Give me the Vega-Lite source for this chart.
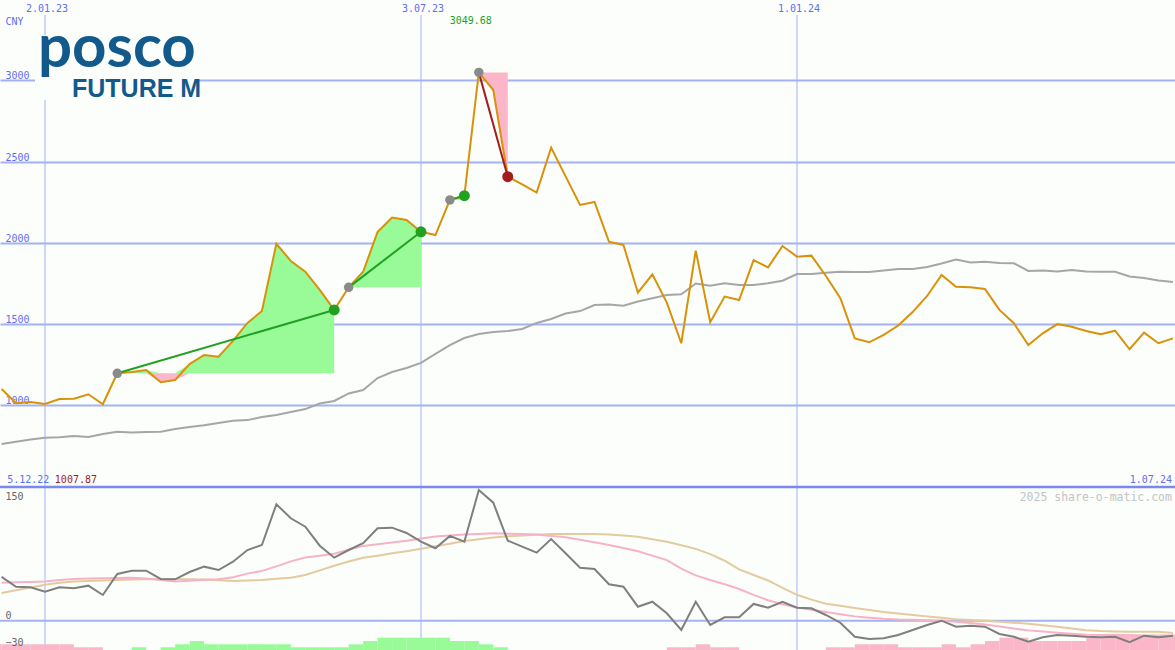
{
  "$schema": "https://vega.github.io/schema/vega-lite/v6.json",
  "width": 1175,
  "height": 650,
  "autosize": {"type": "none"},
  "padding": 0,
  "background": "#fbfefb",
  "config": {"view": {"stroke": null}},
  "datasets": {
    "weekly": [
      {"date":"2022-12-12","close":1102,"ma":763,"mom":49.7,"sigA":43.2,"sigB":31.5},
      {"date":"2022-12-19","close":1014,"ma":777,"mom":38.6,"sigA":43.6,"sigB":34.7},
      {"date":"2022-12-26","close":1022,"ma":791,"mom":38.0,"sigA":44.0,"sigB":37.7},
      {"date":"2023-01-02","close":1010,"ma":802,"mom":33.0,"sigA":44.5,"sigB":40.8},
      {"date":"2023-01-09","close":1040,"ma":804,"mom":38.0,"sigA":46.3,"sigB":43.2},
      {"date":"2023-01-16","close":1042,"ma":812,"mom":36.8,"sigA":47.3,"sigB":44.5},
      {"date":"2023-01-23","close":1069,"ma":806,"mom":39.8,"sigA":47.8,"sigB":45.1},
      {"date":"2023-01-30","close":1007.87,"ma":825,"mom":29.2,"sigA":48.2,"sigB":45.6},
      {"date":"2023-02-06","close":1198,"ma":839,"mom":53.1,"sigA":48.5,"sigB":46.3},
      {"date":"2023-02-13","close":1206,"ma":834,"mom":56.8,"sigA":48.8,"sigB":46.9},
      {"date":"2023-02-20","close":1218,"ma":837,"mom":56.8,"sigA":47.8,"sigB":47.2},
      {"date":"2023-02-27","close":1143,"ma":839,"mom":47.4,"sigA":46.1,"sigB":47.4},
      {"date":"2023-03-06","close":1157,"ma":855,"mom":47.0,"sigA":44.4,"sigB":47.3},
      {"date":"2023-03-13","close":1255,"ma":868,"mom":55.3,"sigA":45.5,"sigB":47.2},
      {"date":"2023-03-20","close":1311,"ma":878,"mom":61.4,"sigA":46.5,"sigB":46.8},
      {"date":"2023-03-27","close":1300,"ma":892,"mom":57.6,"sigA":47.0,"sigB":46.0},
      {"date":"2023-04-03","close":1397,"ma":906,"mom":67.0,"sigA":49.4,"sigB":45.1},
      {"date":"2023-04-10","close":1508,"ma":910,"mom":80.3,"sigA":53.5,"sigB":45.6},
      {"date":"2023-04-17","close":1581,"ma":929,"mom":86.0,"sigA":56.6,"sigB":46.1},
      {"date":"2023-04-24","close":1995,"ma":941,"mom":132.3,"sigA":61.7,"sigB":47.6},
      {"date":"2023-05-01","close":1889,"ma":960,"mom":116.4,"sigA":67.4,"sigB":48.9},
      {"date":"2023-05-08","close":1823,"ma":978,"mom":106.8,"sigA":71.7,"sigB":51.9},
      {"date":"2023-05-15","close":1711,"ma":1012,"mom":85.2,"sigA":73.8,"sigB":57.2},
      {"date":"2023-05-22","close":1588,"ma":1028,"mom":71.6,"sigA":76.0,"sigB":62.5},
      {"date":"2023-05-29","close":1727,"ma":1074,"mom":80.3,"sigA":80.6,"sigB":67.2},
      {"date":"2023-06-05","close":1823,"ma":1095,"mom":88.0,"sigA":85.0,"sigB":71.6},
      {"date":"2023-06-12","close":2068,"ma":1169,"mom":105.0,"sigA":86.8,"sigB":73.9},
      {"date":"2023-06-19","close":2156,"ma":1206,"mom":105.7,"sigA":88.9,"sigB":76.5},
      {"date":"2023-06-26","close":2141,"ma":1231,"mom":99.7,"sigA":90.9,"sigB":79.0},
      {"date":"2023-07-03","close":2069,"ma":1262,"mom":89.9,"sigA":93.3,"sigB":81.7},
      {"date":"2023-07-10","close":2049,"ma":1317,"mom":82.3,"sigA":95.6,"sigB":84.5},
      {"date":"2023-07-17","close":2265,"ma":1372,"mom":96.3,"sigA":96.8,"sigB":87.5},
      {"date":"2023-07-24","close":2291,"ma":1415,"mom":89.8,"sigA":98.0,"sigB":90.5},
      {"date":"2023-07-31","close":3049.68,"ma":1440,"mom":148.5,"sigA":98.6,"sigB":92.6},
      {"date":"2023-08-07","close":2941,"ma":1452,"mom":134.1,"sigA":99.3,"sigB":94.5},
      {"date":"2023-08-14","close":2408,"ma":1458,"mom":90.9,"sigA":98.9,"sigB":95.9},
      {"date":"2023-08-21","close":2360,"ma":1471,"mom":84.1,"sigA":98.5,"sigB":96.8},
      {"date":"2023-08-28","close":2310,"ma":1508,"mom":77.3,"sigA":97.8,"sigB":97.7},
      {"date":"2023-09-04","close":2587,"ma":1532,"mom":92.8,"sigA":96.3,"sigB":98.5},
      {"date":"2023-09-11","close":2410,"ma":1566,"mom":76.6,"sigA":94.9,"sigB":98.5},
      {"date":"2023-09-18","close":2234,"ma":1581,"mom":60.2,"sigA":92.0,"sigB":98.5},
      {"date":"2023-09-25","close":2252,"ma":1618,"mom":58.8,"sigA":89.1,"sigB":98.5},
      {"date":"2023-10-02","close":2008,"ma":1622,"mom":41.4,"sigA":85.9,"sigB":98.0},
      {"date":"2023-10-09","close":1988,"ma":1614,"mom":38.6,"sigA":82.6,"sigB":96.9},
      {"date":"2023-10-16","close":1694,"ma":1640,"mom":15.9,"sigA":78.8,"sigB":95.3},
      {"date":"2023-10-23","close":1807,"ma":1660,"mom":21.6,"sigA":73.9,"sigB":92.6},
      {"date":"2023-10-30","close":1633,"ma":1680,"mom":8.4,"sigA":68.9,"sigB":89.8},
      {"date":"2023-11-06","close":1383,"ma":1684,"mom":-10.6,"sigA":59.1,"sigB":85.7},
      {"date":"2023-11-13","close":1953,"ma":1751,"mom":21.6,"sigA":51.5,"sigB":81.6},
      {"date":"2023-11-20","close":1512,"ma":1737,"mom":-4.9,"sigA":46.3,"sigB":75.6},
      {"date":"2023-11-27","close":1670,"ma":1752,"mom":3.9,"sigA":41.5,"sigB":68.1},
      {"date":"2023-12-04","close":1649,"ma":1742,"mom":3.9,"sigA":36.0,"sigB":58.2},
      {"date":"2023-12-11","close":1895,"ma":1742,"mom":19.0,"sigA":29.4,"sigB":51.9},
      {"date":"2023-12-18","close":1850,"ma":1752,"mom":14.8,"sigA":23.2,"sigB":45.7},
      {"date":"2023-12-25","close":1981,"ma":1768,"mom":21.3,"sigA":18.6,"sigB":37.3},
      {"date":"2024-01-01","close":1916,"ma":1809,"mom":14.8,"sigA":15.0,"sigB":29.4},
      {"date":"2024-01-08","close":1922,"ma":1809,"mom":14.1,"sigA":12.5,"sigB":23.9},
      {"date":"2024-01-15","close":1797,"ma":1817,"mom":6.5,"sigA":9.8,"sigB":19.3},
      {"date":"2024-01-22","close":1660,"ma":1823,"mom":-2.3,"sigA":7.3,"sigB":16.9},
      {"date":"2024-01-29","close":1413,"ma":1822,"mom":-18.2,"sigA":4.9,"sigB":14.4},
      {"date":"2024-02-05","close":1389,"ma":1822,"mom":-20.8,"sigA":3.4,"sigB":12.2},
      {"date":"2024-02-12","close":1434,"ma":1831,"mom":-20.0,"sigA":2.2,"sigB":10.0},
      {"date":"2024-02-19","close":1492,"ma":1840,"mom":-16.3,"sigA":1.4,"sigB":8.2},
      {"date":"2024-02-26","close":1575,"ma":1840,"mom":-10.6,"sigA":1.0,"sigB":6.5},
      {"date":"2024-03-04","close":1674,"ma":1852,"mom":-4.9,"sigA":0.6,"sigB":4.9},
      {"date":"2024-03-11","close":1803,"ma":1874,"mom":0.0,"sigA":-0.2,"sigB":3.3},
      {"date":"2024-03-18","close":1731,"ma":1898,"mom":-6.8,"sigA":-1.1,"sigB":1.6},
      {"date":"2024-03-25","close":1727,"ma":1880,"mom":-5.7,"sigA":-2.7,"sigB":0.8},
      {"date":"2024-04-01","close":1717,"ma":1885,"mom":-6.8,"sigA":-4.3,"sigB":0.0},
      {"date":"2024-04-08","close":1588,"ma":1877,"mom":-15.1,"sigA":-6.5,"sigB":-1.1},
      {"date":"2024-04-15","close":1506,"ma":1875,"mom":-18.2,"sigA":-9.0,"sigB":-2.2},
      {"date":"2024-04-22","close":1372,"ma":1828,"mom":-23.9,"sigA":-11.0,"sigB":-3.6},
      {"date":"2024-04-29","close":1444,"ma":1830,"mom":-18.9,"sigA":-12.4,"sigB":-5.2},
      {"date":"2024-05-06","close":1501,"ma":1825,"mom":-16.3,"sigA":-13.6,"sigB":-6.9},
      {"date":"2024-05-13","close":1485,"ma":1834,"mom":-17.0,"sigA":-14.8,"sigB":-8.9},
      {"date":"2024-05-20","close":1458,"ma":1825,"mom":-18.2,"sigA":-15.9,"sigB":-10.8},
      {"date":"2024-05-27","close":1438,"ma":1823,"mom":-18.9,"sigA":-16.3,"sigB":-11.7},
      {"date":"2024-06-03","close":1460,"ma":1823,"mom":-18.2,"sigA":-16.3,"sigB":-12.2},
      {"date":"2024-06-10","close":1346,"ma":1794,"mom":-24.5,"sigA":-16.6,"sigB":-12.5},
      {"date":"2024-06-17","close":1448,"ma":1785,"mom":-17.0,"sigA":-17.4,"sigB":-12.5},
      {"date":"2024-06-24","close":1383,"ma":1769,"mom":-18.9,"sigA":-18.2,"sigB":-12.7},
      {"date":"2024-07-01","close":1413,"ma":1760,"mom":-17.0,"sigA":-18.2,"sigB":-14.1}
    ],
    "bars": [
      {"date":"2022-12-05","end":"2022-12-12","top":-26.8,"dir":"down"},
      {"date":"2022-12-12","end":"2022-12-19","top":-26.8,"dir":"down"},
      {"date":"2022-12-19","end":"2022-12-26","top":-26.8,"dir":"down"},
      {"date":"2022-12-26","end":"2023-01-02","top":-26.8,"dir":"down"},
      {"date":"2023-01-02","end":"2023-01-09","top":-26.8,"dir":"down"},
      {"date":"2023-01-09","end":"2023-01-16","top":-26.8,"dir":"down"},
      {"date":"2023-01-16","end":"2023-01-23","top":-30.2,"dir":"down"},
      {"date":"2023-01-23","end":"2023-01-30","top":-30.2,"dir":"down"},
      {"date":"2023-02-13","end":"2023-02-20","top":-30.2,"dir":"up"},
      {"date":"2023-02-27","end":"2023-03-06","top":-30.2,"dir":"up"},
      {"date":"2023-03-06","end":"2023-03-13","top":-26.8,"dir":"up"},
      {"date":"2023-03-13","end":"2023-03-20","top":-23.1,"dir":"up"},
      {"date":"2023-03-20","end":"2023-03-27","top":-26.8,"dir":"up"},
      {"date":"2023-03-27","end":"2023-04-03","top":-26.8,"dir":"up"},
      {"date":"2023-04-03","end":"2023-04-10","top":-26.8,"dir":"up"},
      {"date":"2023-04-10","end":"2023-04-17","top":-26.8,"dir":"up"},
      {"date":"2023-04-17","end":"2023-04-24","top":-26.8,"dir":"up"},
      {"date":"2023-04-24","end":"2023-05-01","top":-26.8,"dir":"up"},
      {"date":"2023-05-01","end":"2023-05-08","top":-30.2,"dir":"up"},
      {"date":"2023-05-08","end":"2023-05-15","top":-30.2,"dir":"up"},
      {"date":"2023-05-15","end":"2023-05-22","top":-30.2,"dir":"up"},
      {"date":"2023-05-22","end":"2023-05-29","top":-30.2,"dir":"up"},
      {"date":"2023-05-29","end":"2023-06-05","top":-26.8,"dir":"up"},
      {"date":"2023-06-05","end":"2023-06-12","top":-23.1,"dir":"up"},
      {"date":"2023-06-12","end":"2023-06-19","top":-19.3,"dir":"up"},
      {"date":"2023-06-19","end":"2023-06-26","top":-19.3,"dir":"up"},
      {"date":"2023-06-26","end":"2023-07-03","top":-19.3,"dir":"up"},
      {"date":"2023-07-03","end":"2023-07-10","top":-19.3,"dir":"up"},
      {"date":"2023-07-10","end":"2023-07-17","top":-19.3,"dir":"up"},
      {"date":"2023-07-17","end":"2023-07-24","top":-23.1,"dir":"up"},
      {"date":"2023-07-24","end":"2023-07-31","top":-23.1,"dir":"up"},
      {"date":"2023-07-31","end":"2023-08-07","top":-26.8,"dir":"up"},
      {"date":"2023-08-07","end":"2023-08-14","top":-30.2,"dir":"up"},
      {"date":"2023-10-30","end":"2023-11-06","top":-30.2,"dir":"down"},
      {"date":"2023-11-06","end":"2023-11-13","top":-30.2,"dir":"down"},
      {"date":"2023-11-13","end":"2023-11-20","top":-26.8,"dir":"down"},
      {"date":"2023-11-20","end":"2023-11-27","top":-30.2,"dir":"down"},
      {"date":"2023-11-27","end":"2023-12-04","top":-30.2,"dir":"down"},
      {"date":"2024-01-15","end":"2024-01-22","top":-30.2,"dir":"down"},
      {"date":"2024-01-22","end":"2024-01-29","top":-30.2,"dir":"down"},
      {"date":"2024-01-29","end":"2024-02-05","top":-26.8,"dir":"down"},
      {"date":"2024-02-05","end":"2024-02-12","top":-26.8,"dir":"down"},
      {"date":"2024-02-12","end":"2024-02-19","top":-26.8,"dir":"down"},
      {"date":"2024-02-19","end":"2024-02-26","top":-30.2,"dir":"down"},
      {"date":"2024-02-26","end":"2024-03-04","top":-30.2,"dir":"down"},
      {"date":"2024-03-04","end":"2024-03-11","top":-30.2,"dir":"down"},
      {"date":"2024-03-11","end":"2024-03-18","top":-26.8,"dir":"down"},
      {"date":"2024-03-18","end":"2024-03-25","top":-30.2,"dir":"down"},
      {"date":"2024-03-25","end":"2024-04-01","top":-26.8,"dir":"down"},
      {"date":"2024-04-01","end":"2024-04-08","top":-23.1,"dir":"down"},
      {"date":"2024-04-08","end":"2024-04-15","top":-19.3,"dir":"down"},
      {"date":"2024-04-15","end":"2024-04-22","top":-19.3,"dir":"down"},
      {"date":"2024-04-22","end":"2024-04-29","top":-23.1,"dir":"down"},
      {"date":"2024-04-29","end":"2024-05-06","top":-23.1,"dir":"down"},
      {"date":"2024-05-06","end":"2024-05-13","top":-23.1,"dir":"down"},
      {"date":"2024-05-13","end":"2024-05-20","top":-23.1,"dir":"down"},
      {"date":"2024-05-20","end":"2024-05-27","top":-19.3,"dir":"down"},
      {"date":"2024-05-27","end":"2024-06-03","top":-19.3,"dir":"down"},
      {"date":"2024-06-03","end":"2024-06-10","top":-15.6,"dir":"down"},
      {"date":"2024-06-10","end":"2024-06-17","top":-15.6,"dir":"down"},
      {"date":"2024-06-17","end":"2024-06-24","top":-15.6,"dir":"down"},
      {"date":"2024-06-24","end":"2024-07-01","top":-15.6,"dir":"down"},
      {"date":"2024-07-01","end":"2024-07-08","top":-15.6,"dir":"down"}
    ],
    "fills": [
      {"seg":"t1g","kind":"gain","date":"2023-02-06","top":1198,"base":1198},
      {"seg":"t1g","kind":"gain","date":"2023-02-13","top":1206,"base":1198},
      {"seg":"t1g","kind":"gain","date":"2023-02-20","top":1218,"base":1198},
      {"seg":"t1g","kind":"gain","date":"2023-02-27","top":1198,"base":1198},
      {"seg":"t1g","kind":"gain","date":"2023-03-06","top":1198,"base":1198},
      {"seg":"t1g","kind":"gain","date":"2023-03-13","top":1255,"base":1198},
      {"seg":"t1g","kind":"gain","date":"2023-03-20","top":1311,"base":1198},
      {"seg":"t1g","kind":"gain","date":"2023-03-27","top":1300,"base":1198},
      {"seg":"t1g","kind":"gain","date":"2023-04-03","top":1397,"base":1198},
      {"seg":"t1g","kind":"gain","date":"2023-04-10","top":1508,"base":1198},
      {"seg":"t1g","kind":"gain","date":"2023-04-17","top":1581,"base":1198},
      {"seg":"t1g","kind":"gain","date":"2023-04-24","top":1995,"base":1198},
      {"seg":"t1g","kind":"gain","date":"2023-05-01","top":1889,"base":1198},
      {"seg":"t1g","kind":"gain","date":"2023-05-08","top":1823,"base":1198},
      {"seg":"t1g","kind":"gain","date":"2023-05-15","top":1711,"base":1198},
      {"seg":"t1g","kind":"gain","date":"2023-05-22","top":1588,"base":1198},
      {"seg":"t1d","kind":"drop","date":"2023-02-20","top":1198,"base":1198},
      {"seg":"t1d","kind":"drop","date":"2023-02-27","top":1143,"base":1198},
      {"seg":"t1d","kind":"drop","date":"2023-03-06","top":1157,"base":1198},
      {"seg":"t1d","kind":"drop","date":"2023-03-13","top":1198,"base":1198},
      {"seg":"t2g","kind":"gain","date":"2023-05-29","top":1727,"base":1727},
      {"seg":"t2g","kind":"gain","date":"2023-06-05","top":1823,"base":1727},
      {"seg":"t2g","kind":"gain","date":"2023-06-12","top":2068,"base":1727},
      {"seg":"t2g","kind":"gain","date":"2023-06-19","top":2156,"base":1727},
      {"seg":"t2g","kind":"gain","date":"2023-06-26","top":2141,"base":1727},
      {"seg":"t2g","kind":"gain","date":"2023-07-03","top":2069,"base":1727},
      {"seg":"t3g","kind":"gain","date":"2023-07-17","top":2265,"base":2265},
      {"seg":"t3g","kind":"gain","date":"2023-07-24","top":2291,"base":2265},
      {"seg":"t4d","kind":"drop","date":"2023-07-31","top":3049.68,"base":3049.68},
      {"seg":"t4d","kind":"drop","date":"2023-08-07","top":2941,"base":3049.68},
      {"seg":"t4d","kind":"drop","date":"2023-08-14","top":2408,"base":3049.68}
    ],
    "trades": [
      {"trade":1,"date":"2023-02-06","price":1198,"role":"entry","result":"win"},
      {"trade":1,"date":"2023-05-22","price":1588,"role":"exit","result":"win"},
      {"trade":2,"date":"2023-05-29","price":1727,"role":"entry","result":"win"},
      {"trade":2,"date":"2023-07-03","price":2069,"role":"exit","result":"win"},
      {"trade":3,"date":"2023-07-17","price":2265,"role":"entry","result":"win"},
      {"trade":3,"date":"2023-07-24","price":2291,"role":"exit","result":"win"},
      {"trade":4,"date":"2023-07-31","price":3049.68,"role":"entry","result":"loss"},
      {"trade":4,"date":"2023-08-14","price":2408,"role":"exit","result":"loss"}
    ],
    "dateTicks": [
      {"date":"2023-01-02","value":3495,"label":"2.01.23"},
      {"date":"2023-07-03","value":3495,"label":"3.07.23"},
      {"date":"2024-01-01","value":3495,"label":"1.01.24"}
    ]
  },
  "resolve": {"scale": {"y": "independent"}, "axis": {"y": "independent"}},
  "layer": [
    {
      "data": {"name": "dateTicks"},
      "mark": {"type": "rule", "color": "#a4b2f2", "strokeWidth": 1},
      "encoding": {
        "x": {"field": "date", "type": "temporal", "axis": null, "scale": {"type": "utc", "domain": [{"year":2022,"month":12,"date":11,"hours":5,"minutes":16,"utc":true},{"year":2024,"month":7,"date":1,"hours":23,"minutes":45,"utc":true}]}},
        "y": {"datum": 3403, "type": "quantitative", "axis": null, "scale": {"domain": [498.5, 3495], "range": [487, 0], "nice": false, "zero": false}},
        "y2": {"datum": 498.5}
      }
    },
    {
      "data": {"name": "dateTicks"},
      "mark": {"type": "rule", "color": "#a4b2f2", "strokeWidth": 1},
      "encoding": {
        "x": {"field": "date", "type": "temporal", "axis": null, "scale": {"type": "utc", "domain": [{"year":2022,"month":12,"date":11,"hours":5,"minutes":16,"utc":true},{"year":2024,"month":7,"date":1,"hours":23,"minutes":45,"utc":true}]}},
        "y": {"datum": 151.9, "type": "quantitative", "axis": null, "scale": {"domain": [-33.3, 151.9], "range": [650, 487], "nice": false, "zero": false}},
        "y2": {"datum": -33.3}
      }
    },
    {
      "data": {"values": [{"date":"2022-12-28T04:00:00Z","end":"2023-03-17T00:00:00Z","top":3280,"bottom":2880}]},
      "mark": {"type": "rect", "fill": "#fbfefb"},
      "encoding": {
        "x": {"field": "date", "type": "temporal", "axis": null, "scale": {"type": "utc", "domain": [{"year":2022,"month":12,"date":11,"hours":5,"minutes":16,"utc":true},{"year":2024,"month":7,"date":1,"hours":23,"minutes":45,"utc":true}]}},
        "x2": {"field": "end"},
        "y": {"field": "top", "type": "quantitative", "axis": null, "scale": {"domain": [498.5, 3495], "range": [487, 0], "nice": false, "zero": false}},
        "y2": {"field": "bottom"}
      }
    },
    {
      "data": {"name": "bars"},
      "mark": {"type": "rect", "clip": true},
      "encoding": {
        "x": {"field": "date", "type": "temporal", "axis": null, "scale": {"type": "utc", "domain": [{"year":2022,"month":12,"date":11,"hours":5,"minutes":16,"utc":true},{"year":2024,"month":7,"date":1,"hours":23,"minutes":45,"utc":true}]}},
        "x2": {"field": "end"},
        "y": {"field": "top", "type": "quantitative", "axis": null, "scale": {"domain": [-33.3, 151.9], "range": [650, 487], "nice": false, "zero": false}},
        "y2": {"datum": -33.3},
        "color": {"condition": {"test": "datum.dir == 'up'", "value": "#98fb98"}, "value": "#fbb6ca"}
      }
    },
    {
      "data": {"values": [{"level": 0}]},
      "mark": {"type": "rule", "color": "#a4b2f2", "strokeWidth": 2},
      "encoding": {
        "y": {"field": "level", "type": "quantitative", "axis": null, "scale": {"domain": [-33.3, 151.9], "range": [650, 487], "nice": false, "zero": false}}
      }
    },
    {
      "data": {"values": [{"level": 498.5}]},
      "mark": {"type": "rule", "color": "#7b88ee", "strokeWidth": 2.5},
      "encoding": {
        "y": {"field": "level", "type": "quantitative", "axis": null, "scale": {"domain": [498.5, 3495], "range": [487, 0], "nice": false, "zero": false}}
      }
    },
    {
      "data": {"name": "fills"},
      "mark": {"type": "area", "clip": true},
      "encoding": {
        "x": {"field": "date", "type": "temporal", "axis": null, "scale": {"type": "utc", "domain": [{"year":2022,"month":12,"date":11,"hours":5,"minutes":16,"utc":true},{"year":2024,"month":7,"date":1,"hours":23,"minutes":45,"utc":true}]}},
        "y": {"field": "top", "type": "quantitative", "axis": null, "scale": {"domain": [498.5, 3495], "range": [487, 0], "nice": false, "zero": false}},
        "y2": {"field": "base"},
        "detail": {"field": "seg"},
        "color": {"condition": {"test": "datum.kind == 'gain'", "value": "#98fb98"}, "value": "#fbb6ca"}
      }
    },
    {
      "data": {"name": "weekly"},
      "mark": {"type": "line", "color": "#a6a6a6", "strokeWidth": 2, "clip": true},
      "encoding": {
        "x": {"field": "date", "type": "temporal", "axis": null, "scale": {"type": "utc", "domain": [{"year":2022,"month":12,"date":11,"hours":5,"minutes":16,"utc":true},{"year":2024,"month":7,"date":1,"hours":23,"minutes":45,"utc":true}]}},
        "y": {"field": "ma", "type": "quantitative", "axis": null, "scale": {"domain": [498.5, 3495], "range": [487, 0], "nice": false, "zero": false}}
      }
    },
    {
      "data": {"name": "weekly"},
      "mark": {"type": "line", "color": "#d8920a", "strokeWidth": 2, "clip": true},
      "encoding": {
        "x": {"field": "date", "type": "temporal", "axis": null, "scale": {"type": "utc", "domain": [{"year":2022,"month":12,"date":11,"hours":5,"minutes":16,"utc":true},{"year":2024,"month":7,"date":1,"hours":23,"minutes":45,"utc":true}]}},
        "y": {
          "field": "close", "type": "quantitative",
          "scale": {"domain": [498.5, 3495], "range": [487, 0], "nice": false, "zero": false},
          "axis": {
            "orient": "left",
            "values": [1000, 1500, 2000, 2500, 3000],
            "format": "d",
            "grid": true, "gridColor": "#a4b2f2", "gridWidth": 2,
            "domain": false, "ticks": false, "tickSize": 0,
            "labelAlign": "left", "labelBaseline": "alphabetic", "labelPadding": -5, "labelOffset": -1.5,
            "labelFlush": false, "labelOverlap": false,
            "labelFont": "DejaVu Sans Mono", "labelFontSize": 10, "labelColor": "#5f6ff2",
            "title": "CNY", "titleAngle": 0, "titleX": 5, "titleY": 24, "titleAlign": "left", "titleBaseline": "alphabetic",
            "titleFont": "DejaVu Sans Mono", "titleFontSize": 10, "titleFontWeight": "normal", "titleColor": "#5f6ff2"
          }
        }
      }
    },
    {
      "data": {"name": "trades"},
      "mark": {"type": "line", "strokeWidth": 2},
      "encoding": {
        "x": {"field": "date", "type": "temporal", "axis": null, "scale": {"type": "utc", "domain": [{"year":2022,"month":12,"date":11,"hours":5,"minutes":16,"utc":true},{"year":2024,"month":7,"date":1,"hours":23,"minutes":45,"utc":true}]}},
        "y": {"field": "price", "type": "quantitative", "axis": null, "scale": {"domain": [498.5, 3495], "range": [487, 0], "nice": false, "zero": false}},
        "detail": {"field": "trade"},
        "color": {"condition": {"test": "datum.result == 'loss'", "value": "#a51c1c"}, "value": "#22a022"}
      }
    },
    {
      "data": {"name": "trades"},
      "mark": {"type": "circle", "opacity": 1},
      "encoding": {
        "x": {"field": "date", "type": "temporal", "axis": null, "scale": {"type": "utc", "domain": [{"year":2022,"month":12,"date":11,"hours":5,"minutes":16,"utc":true},{"year":2024,"month":7,"date":1,"hours":23,"minutes":45,"utc":true}]}},
        "y": {"field": "price", "type": "quantitative", "axis": null, "scale": {"domain": [498.5, 3495], "range": [487, 0], "nice": false, "zero": false}},
        "size": {"condition": {"test": "datum.role == 'entry'", "value": 90}, "value": 120},
        "color": {"condition": [{"test": "datum.role == 'entry'", "value": "#8a8a8a"}, {"test": "datum.result == 'loss'", "value": "#a51c1c"}], "value": "#22a022"}
      }
    },
    {
      "data": {"name": "weekly"},
      "mark": {"type": "line", "color": "#e3cb9f", "strokeWidth": 2, "clip": true},
      "encoding": {
        "x": {"field": "date", "type": "temporal", "axis": null, "scale": {"type": "utc", "domain": [{"year":2022,"month":12,"date":11,"hours":5,"minutes":16,"utc":true},{"year":2024,"month":7,"date":1,"hours":23,"minutes":45,"utc":true}]}},
        "y": {"field": "sigB", "type": "quantitative", "axis": null, "scale": {"domain": [-33.3, 151.9], "range": [650, 487], "nice": false, "zero": false}}
      }
    },
    {
      "data": {"name": "weekly"},
      "mark": {"type": "line", "color": "#f7b2c6", "strokeWidth": 2, "clip": true},
      "encoding": {
        "x": {"field": "date", "type": "temporal", "axis": null, "scale": {"type": "utc", "domain": [{"year":2022,"month":12,"date":11,"hours":5,"minutes":16,"utc":true},{"year":2024,"month":7,"date":1,"hours":23,"minutes":45,"utc":true}]}},
        "y": {"field": "sigA", "type": "quantitative", "axis": null, "scale": {"domain": [-33.3, 151.9], "range": [650, 487], "nice": false, "zero": false}}
      }
    },
    {
      "data": {"name": "weekly"},
      "mark": {"type": "line", "color": "#7f7f7f", "strokeWidth": 2, "clip": true},
      "encoding": {
        "x": {"field": "date", "type": "temporal", "axis": null, "scale": {"type": "utc", "domain": [{"year":2022,"month":12,"date":11,"hours":5,"minutes":16,"utc":true},{"year":2024,"month":7,"date":1,"hours":23,"minutes":45,"utc":true}]}},
        "y": {
          "field": "mom", "type": "quantitative",
          "scale": {"domain": [-33.3, 151.9], "range": [650, 487], "nice": false, "zero": false},
          "axis": {
            "orient": "left", "values": [150, 0, -30],
            "grid": false, "domain": false, "ticks": false, "tickSize": 0,
            "labelAlign": "left", "labelPadding": -5,
            "labelBaseline": {"condition": {"test": "datum.value == 150", "value": "top"}, "value": "alphabetic"},
            "labelOffset": {"condition": {"test": "datum.value == 150", "value": 3}, "value": -2},
            "labelFlush": false, "labelOverlap": false,
            "labelFont": "DejaVu Sans Mono", "labelFontSize": 10, "labelColor": "#666666",
            "title": null, "zindex": 1
          }
        }
      }
    },
    {
      "data": {"name": "dateTicks"},
      "mark": {"type": "text", "align": "center", "baseline": "alphabetic", "dx": 2, "dy": 12, "font": "DejaVu Sans Mono", "fontSize": 10, "color": "#5f6ff2"},
      "encoding": {
        "x": {"field": "date", "type": "temporal", "axis": null, "scale": {"type": "utc", "domain": [{"year":2022,"month":12,"date":11,"hours":5,"minutes":16,"utc":true},{"year":2024,"month":7,"date":1,"hours":23,"minutes":45,"utc":true}]}},
        "y": {"field": "value", "type": "quantitative", "axis": null, "scale": {"domain": [498.5, 3495], "range": [487, 0], "nice": false, "zero": false}},
        "text": {"field": "label"}
      }
    },
    {
      "data": {"values": [{"date": "2023-01-02", "value": 3080, "label": "posco"}]},
      "mark": {"type": "text", "align": "left", "baseline": "alphabetic", "dx": -7, "font": "Lato", "fontSize": 60, "fontWeight": "bold", "color": "#135a8c"},
      "encoding": {
        "x": {"field": "date", "type": "temporal", "axis": null, "scale": {"type": "utc", "domain": [{"year":2022,"month":12,"date":11,"hours":5,"minutes":16,"utc":true},{"year":2024,"month":7,"date":1,"hours":23,"minutes":45,"utc":true}]}},
        "y": {"field": "value", "type": "quantitative", "axis": null, "scale": {"domain": [498.5, 3495], "range": [487, 0], "nice": false, "zero": false}},
        "text": {"field": "label"}
      }
    },
    {
      "data": {"values": [{"date": "2023-01-02", "value": 2898, "label": "FUTURE M"}]},
      "mark": {"type": "text", "align": "left", "baseline": "alphabetic", "dx": 27, "font": "Liberation Sans", "fontSize": 25, "fontWeight": "bold", "color": "#135a8c"},
      "encoding": {
        "x": {"field": "date", "type": "temporal", "axis": null, "scale": {"type": "utc", "domain": [{"year":2022,"month":12,"date":11,"hours":5,"minutes":16,"utc":true},{"year":2024,"month":7,"date":1,"hours":23,"minutes":45,"utc":true}]}},
        "y": {"field": "value", "type": "quantitative", "axis": null, "scale": {"domain": [498.5, 3495], "range": [487, 0], "nice": false, "zero": false}},
        "text": {"field": "label"}
      }
    },
    {
      "data": {"values": [{"date": "2023-07-31", "value": 3049.68, "label": "3049.68"}]},
      "mark": {"type": "text", "align": "center", "baseline": "middle", "dx": -8, "dy": -51, "font": "DejaVu Sans Mono", "fontSize": 10, "color": "#1e9e1e"},
      "encoding": {
        "x": {"field": "date", "type": "temporal", "axis": null, "scale": {"type": "utc", "domain": [{"year":2022,"month":12,"date":11,"hours":5,"minutes":16,"utc":true},{"year":2024,"month":7,"date":1,"hours":23,"minutes":45,"utc":true}]}},
        "y": {"field": "value", "type": "quantitative", "axis": null, "scale": {"domain": [498.5, 3495], "range": [487, 0], "nice": false, "zero": false}},
        "text": {"field": "label"}
      }
    },
    {
      "data": {"values": [{"date": "2022-12-05", "value": 498.5, "label": "5.12.22"}]},
      "mark": {"type": "text", "align": "left", "baseline": "alphabetic", "dx": 20, "dy": -4, "font": "DejaVu Sans Mono", "fontSize": 10, "color": "#5f6ff2"},
      "encoding": {
        "x": {"field": "date", "type": "temporal", "axis": null, "scale": {"type": "utc", "domain": [{"year":2022,"month":12,"date":11,"hours":5,"minutes":16,"utc":true},{"year":2024,"month":7,"date":1,"hours":23,"minutes":45,"utc":true}]}},
        "y": {"field": "value", "type": "quantitative", "axis": null, "scale": {"domain": [498.5, 3495], "range": [487, 0], "nice": false, "zero": false}},
        "text": {"field": "label"}
      }
    },
    {
      "data": {"values": [{"date": "2023-01-30", "value": 498.5, "label": "1007.87"}]},
      "mark": {"type": "text", "align": "left", "baseline": "alphabetic", "dx": -48, "dy": -4, "font": "DejaVu Sans Mono", "fontSize": 10, "color": "#a51c1c"},
      "encoding": {
        "x": {"field": "date", "type": "temporal", "axis": null, "scale": {"type": "utc", "domain": [{"year":2022,"month":12,"date":11,"hours":5,"minutes":16,"utc":true},{"year":2024,"month":7,"date":1,"hours":23,"minutes":45,"utc":true}]}},
        "y": {"field": "value", "type": "quantitative", "axis": null, "scale": {"domain": [498.5, 3495], "range": [487, 0], "nice": false, "zero": false}},
        "text": {"field": "label"}
      }
    },
    {
      "data": {"values": [{"date": "2024-07-01", "value": 498.5, "label": "1.07.24"}]},
      "mark": {"type": "text", "align": "right", "baseline": "alphabetic", "dx": -1, "dy": -4, "font": "DejaVu Sans Mono", "fontSize": 10, "color": "#5f6ff2"},
      "encoding": {
        "x": {"field": "date", "type": "temporal", "axis": null, "scale": {"type": "utc", "domain": [{"year":2022,"month":12,"date":11,"hours":5,"minutes":16,"utc":true},{"year":2024,"month":7,"date":1,"hours":23,"minutes":45,"utc":true}]}},
        "y": {"field": "value", "type": "quantitative", "axis": null, "scale": {"domain": [498.5, 3495], "range": [487, 0], "nice": false, "zero": false}},
        "text": {"field": "label"}
      }
    },
    {
      "data": {"values": [{"date": "2024-07-01", "value": 150, "label": "2025 share-o-matic.com"}]},
      "mark": {"type": "text", "align": "right", "baseline": "top", "dx": -1, "dy": 3, "font": "DejaVu Sans Mono", "fontSize": 11.5, "color": "#c4c4c4"},
      "encoding": {
        "x": {"field": "date", "type": "temporal", "axis": null, "scale": {"type": "utc", "domain": [{"year":2022,"month":12,"date":11,"hours":5,"minutes":16,"utc":true},{"year":2024,"month":7,"date":1,"hours":23,"minutes":45,"utc":true}]}},
        "y": {"field": "value", "type": "quantitative", "axis": null, "scale": {"domain": [-33.3, 151.9], "range": [650, 487], "nice": false, "zero": false}},
        "text": {"field": "label"}
      }
    }
  ]
}
